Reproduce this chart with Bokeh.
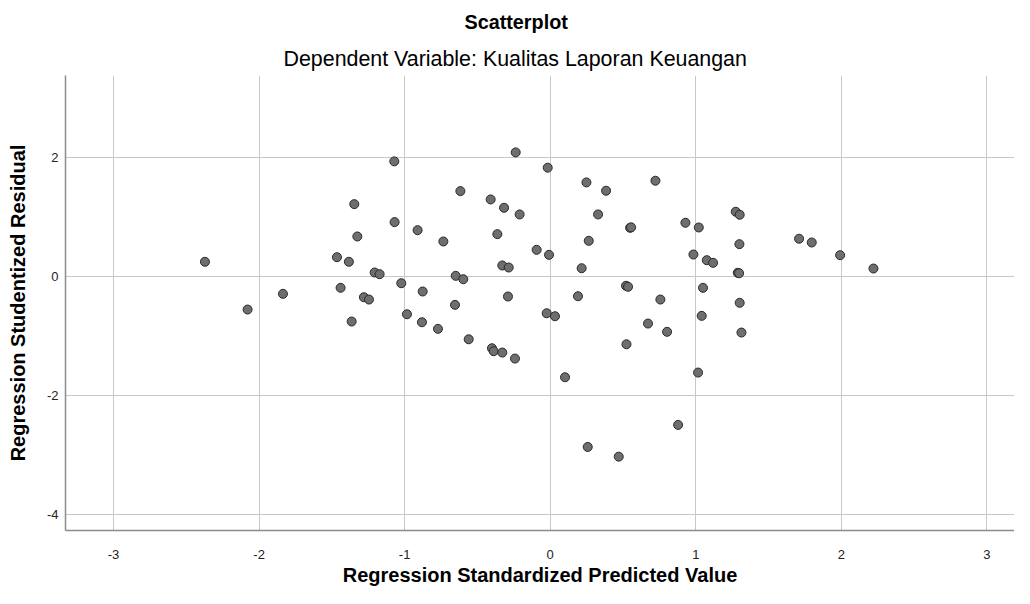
from bokeh.plotting import figure
from bokeh.models import Title, FixedTicker, Range1d
from bokeh.embed import file_html
from bokeh.resources import INLINE

predicted = [
    -1.071, -1.346, -1.069, -0.911, -0.734, -1.325, -2.372, -1.465, -1.383, -1.206, -1.172,
    -1.023, -0.876, -1.44, -1.28, -1.245, -1.836, -2.079, -0.984, -0.881, -1.364, -0.771,
    -0.237, -0.017, -0.617, 0.249, 0.384, 0.723, -0.409, -0.317, -0.21, 0.329, 0.549, 0.556,
    0.929, 1.021, -0.363, -0.093, -0.008, 0.265, 0.984, 1.076, 1.119, -0.329, -0.285, 0.216,
    -0.649, -0.597, -0.29, 0.191, 0.521, 0.535, 1.05, 0.757, -0.654, -0.56, -0.024, 0.033,
    1.041, 0.672, 0.803, 0.524, -0.4, -0.388, -0.329, -0.242, 0.102, 1.016,
    1.275, 1.302, 1.3, 1.71, 1.797, 1.992, 2.221, 1.289, 1.298, 1.302, 1.314,
    0.879, 0.258, 0.471,
]
residual = [
    1.928, 1.21, 0.908, 0.773, 0.583, 0.667, 0.242, 0.319, 0.242, 0.062, 0.034,
    -0.118, -0.257, -0.195, -0.353, -0.392, -0.296, -0.56, -0.639, -0.773, -0.761, -0.884,
    2.079, 1.822, 1.429, 1.575, 1.435, 1.603, 1.289, 1.149, 1.037, 1.037, 0.813, 0.82,
    0.897, 0.818, 0.706, 0.443, 0.359, 0.594, 0.364, 0.269, 0.225, 0.18, 0.146, 0.134,
    0.006, -0.05, -0.341, -0.336, -0.161, -0.178, -0.195, -0.392, -0.481, -1.059, -0.622, -0.672,
    -0.666, -0.795, -0.934, -1.143, -1.21, -1.26, -1.282, -1.383, -1.697, -1.618,
    1.082, 1.032, 0.538, 0.629, 0.566, 0.353, 0.129, 0.057, 0.05, -0.447, -0.946,
    -2.497, -2.867, -3.03,
]
x_ticks = [-3, -2, -1, 0, 1, 2, 3]
y_ticks = [-4, -2, 0, 2]
x_title = "Regression Standardized Predicted Value"
y_title = "Regression Studentized Residual"

FONT = "Liberation Sans"

p = figure(width=1014, height=588, output_backend="svg", toolbar_location=None,
           x_range=Range1d(-3.33, 3.19), y_range=Range1d(-4.27, 3.37),
           min_border_left=65, min_border_right=0, min_border_top=75, min_border_bottom=58,
           title="Scatterplot")
p.title.align = "left"
p.title.text_font = FONT
p.title.text_font_size = "19.8px"
p.title.text_font_style = "bold"
p.title.text_color = "#000000"
p.title.offset = 399
p.title.standoff = 14
p.add_layout(Title(text="Dependent Variable: Kualitas Laporan Keuangan", align="left",
                   text_font=FONT, text_font_size="21.4px", text_font_style="normal",
                   text_color="#000000", offset=218, standoff=9.5),
             "above")

p.outline_line_color = None
p.background_fill_color = "white"

p.scatter(predicted, residual, size=9, fill_color="#6e6e6e", line_color="#2a2a2a",
          line_width=1)

for ax in (p.xaxis[0], p.yaxis[0]):
    ax.axis_line_color = "#8c8c8c"
    ax.axis_line_width = 1.5
    ax.major_tick_line_color = None
    ax.minor_tick_line_color = None
    ax.major_tick_out = 0
    ax.major_tick_in = 0
    ax.minor_tick_out = 0
    ax.minor_tick_in = 0
    ax.major_label_text_font = FONT
    ax.major_label_text_font_size = "13px"
    ax.major_label_text_color = "#222222"
    ax.axis_label_text_font = FONT
    ax.axis_label_text_font_style = "bold"
    ax.axis_label_text_color = "#000000"
    ax.axis_label_text_font_size = "20px"

p.xaxis.ticker = FixedTicker(ticks=x_ticks)
p.yaxis.ticker = FixedTicker(ticks=y_ticks)
p.xaxis.major_label_overrides = {t: str(t) for t in x_ticks}
p.yaxis.major_label_overrides = {t: str(t) for t in y_ticks}
p.xaxis.axis_label = x_title
p.yaxis.axis_label = y_title
p.xaxis.axis_label_text_line_height = 1.0
p.xaxis.major_label_standoff = 19
p.xaxis.axis_label_standoff = 2
p.yaxis.major_label_standoff = 7
p.yaxis.axis_label_standoff = 15

for g in (p.xgrid[0], p.ygrid[0]):
    g.grid_line_color = "#c8c8c8"
    g.grid_line_width = 1
p.xgrid.ticker = FixedTicker(ticks=x_ticks)
p.ygrid.ticker = FixedTicker(ticks=y_ticks)

open("out.html", "w").write(file_html(p, INLINE))
